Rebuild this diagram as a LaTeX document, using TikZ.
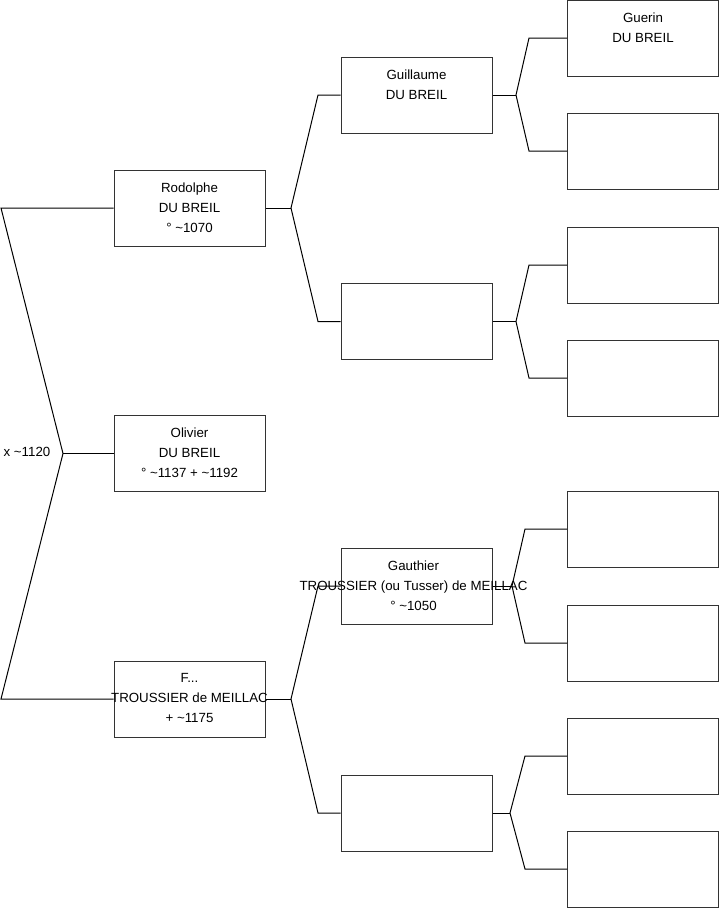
\documentclass[tikz,border=0pt]{standalone}
\usepackage{fontspec}
\setmainfont{Liberation Sans}
\begin{document}
\begin{tikzpicture}[
  x=1pt, y=-1pt,
  person/.style={rectangle, draw=black!80, line width=1pt, minimum width=151pt, minimum height=76pt, inner sep=0pt},
  who/.style={anchor=north, yshift=-13pt, inner sep=0pt, align=center, font=\fontsize{13.3}{20}\selectfont, execute at begin node=\strut},
  link/.style={black, line width=1pt},
]
  \useasboundingbox (0,0) rectangle (719,908);

  % Generation 1
  \node[person] (rod) at (189.5, 208) {};
  \node[person] (oli) at (189.5, 453.5) {};
  \node[person] (fra) at (189.5, 699) {};

  % Generation 2
  \node[person] (gui) at (416.5, 95) {};
  \node[person] (emb) at (416.5, 321.5) {};
  \node[person] (gau) at (416.5, 586) {};
  \node[person] (emd) at (416.5, 813) {};

  % Generation 3
  \node[person] (gue) at (643, 38) {};
  \node[person] (p2) at (643, 151) {};
  \node[person] (p3) at (643, 265) {};
  \node[person] (p4) at (643, 378) {};
  \node[person] (p5) at (643, 529) {};
  \node[person] (p6) at (643, 643) {};
  \node[person] (p7) at (643, 756) {};
  \node[person] (p8) at (643, 869) {};

  % Names
  \node[who] (rodT) at (rod.north) {Rodolphe\\DU BREIL\\° \textasciitilde1070};
  \node[who] (oliT) at (oli.north) {Olivier\\DU BREIL\\° \textasciitilde1137 + \textasciitilde1192};
  \node[who] (fraT) at (fra.north) {F...\\TROUSSIER de MEILLAC\\+ \textasciitilde1175};
  \node[who] (guiT) at (gui.north) {Guillaume\\DU BREIL};
  \node[who] (gauT) at ([xshift=-3pt]gau.north) {Gauthier\\TROUSSIER (ou Tusser) de MEILLAC\\° \textasciitilde1050};
  \node[who] (gueT) at (gue.north) {Guerin\\DU BREIL};

  % Fork points
  \coordinate (f0) at (63, 453.5);
  \coordinate (f0a) at (1, 208);
  \coordinate (f0b) at (1, 699);
  \coordinate (f1) at (291, 208);
  \coordinate (f1a) at (318, 95);
  \coordinate (f1b) at (318, 321.5);
  \coordinate (f2) at (291, 699);
  \coordinate (f2a) at (318, 586);
  \coordinate (f2b) at (318, 813);
  \coordinate (f3) at (516, 95);
  \coordinate (f3a) at (529, 38);
  \coordinate (f3b) at (529, 151);
  \coordinate (f4) at (516, 321.5);
  \coordinate (f4a) at (529, 265);
  \coordinate (f4b) at (529, 378);
  \coordinate (f5) at (512, 586);
  \coordinate (f5a) at (525, 529);
  \coordinate (f5b) at (525, 643);
  \coordinate (f6) at (510, 813);
  \coordinate (f6a) at (525, 756);
  \coordinate (f6b) at (525, 869);

  % Marriage label
  \node[font=\fontsize{13.3}{20}\selectfont, inner sep=0pt] (mar) at (27, 452) {x \textasciitilde1120};

  % Links
  \draw[link] (rod.west) -- (f0a) -- (f0) -- (f0b) -- (fra.west);
  \draw[link] (f0) -- (oli.west);
  \draw[link] (rod.east) -- (f1);
  \draw[link] (gui.west) -- (f1a) -- (f1) -- (f1b) -- (emb.west);
  \draw[link] (fra.east) -- (f2);
  \draw[link] (gau.west) -- (f2a) -- (f2) -- (f2b) -- (emd.west);
  \draw[link] (gui.east) -- (f3);
  \draw[link] (gue.west) -- (f3a) -- (f3) -- (f3b) -- (p2.west);
  \draw[link] (emb.east) -- (f4);
  \draw[link] (p3.west) -- (f4a) -- (f4) -- (f4b) -- (p4.west);
  \draw[link] (gau.east) -- (f5);
  \draw[link] (p5.west) -- (f5a) -- (f5) -- (f5b) -- (p6.west);
  \draw[link] (emd.east) -- (f6);
  \draw[link] (p7.west) -- (f6a) -- (f6) -- (f6b) -- (p8.west);
\end{tikzpicture}
\end{document}
